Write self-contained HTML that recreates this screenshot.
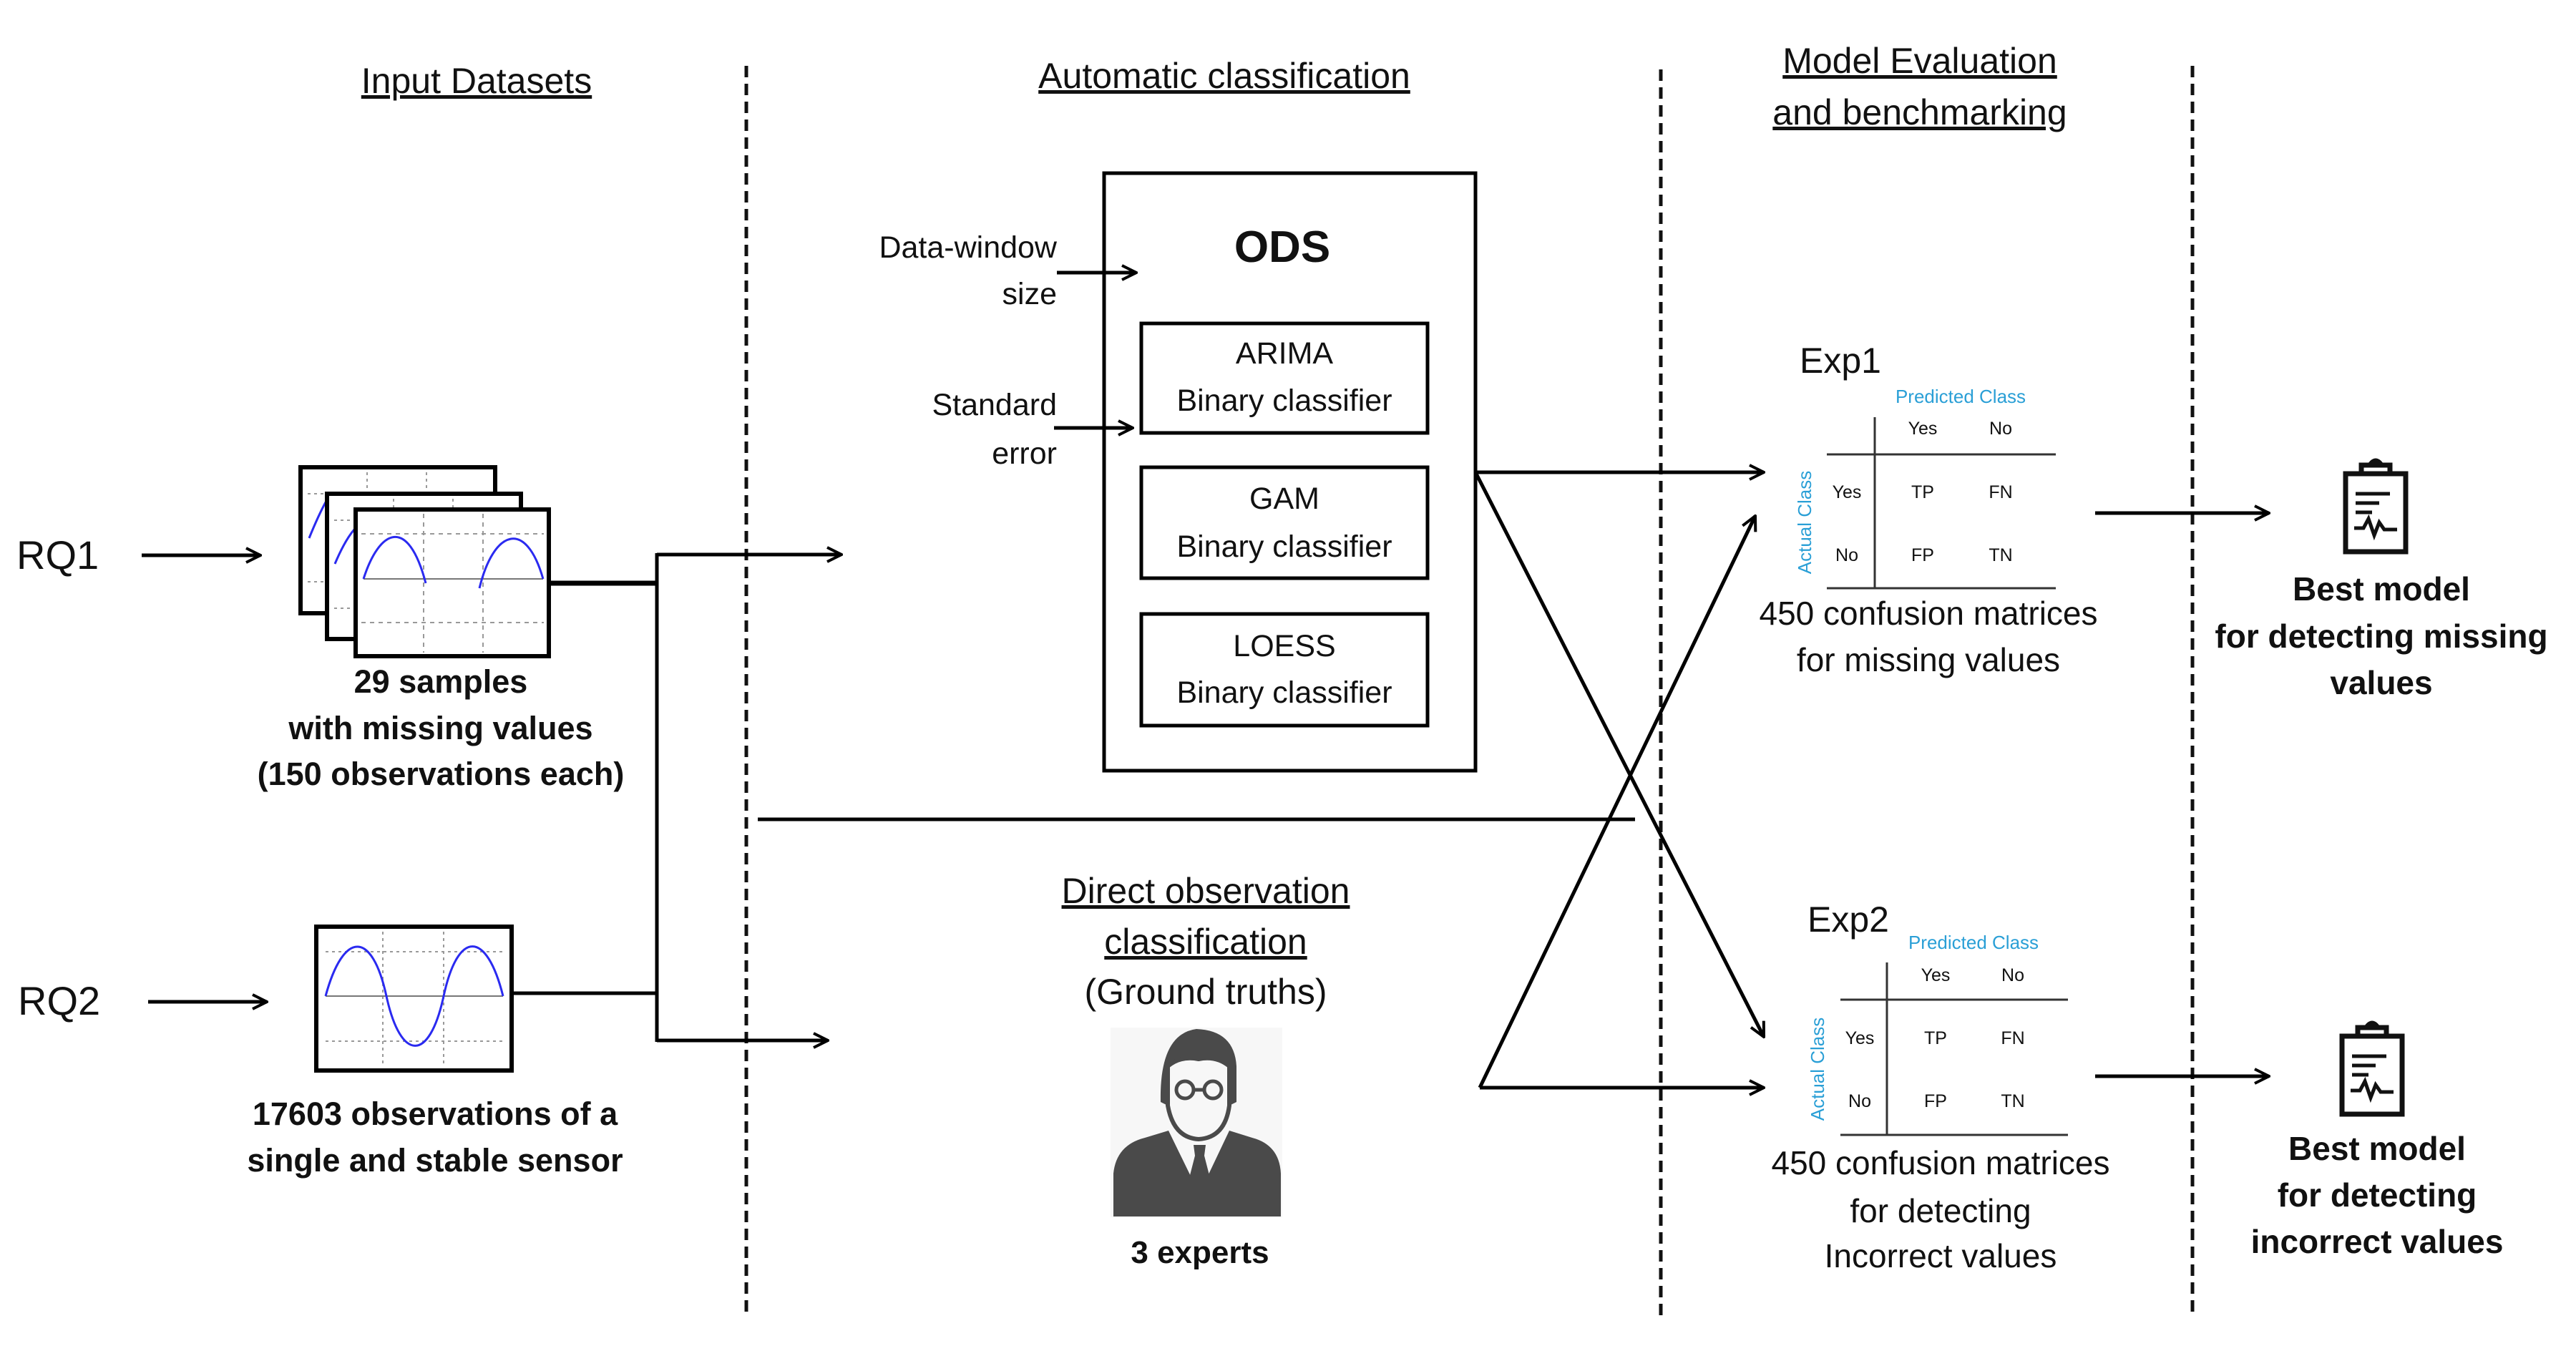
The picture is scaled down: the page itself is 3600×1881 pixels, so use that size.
<!DOCTYPE html>
<html><head><meta charset="utf-8"><style>
html,body{margin:0;padding:0;background:#fff;}
svg{display:block;}
text{font-family:"Liberation Sans",sans-serif;fill:#111;}
.b{font-weight:bold;}
.c{text-anchor:middle;}
.r{text-anchor:end;}
.bl{fill:#2a9fd6;}
.u{text-decoration:underline;}
</style></head><body>
<svg width="3600" height="1881" viewBox="0 0 3600 1881" xmlns="http://www.w3.org/2000/svg">
<defs>
<marker id="a" viewBox="0 0 12 12" refX="11" refY="6" markerWidth="24" markerHeight="24" orient="auto" markerUnits="userSpaceOnUse">
<path d="M1,1 L11,6 L1,11" fill="none" stroke="#000" stroke-width="2"/>
</marker>
</defs>
<g stroke="#111" stroke-width="5" stroke-dasharray="16,9">
<line x1="1043" y1="92" x2="1043" y2="1842"/>
<line x1="2321" y1="97" x2="2321" y2="1842"/>
<line x1="3064" y1="92" x2="3064" y2="1842"/>
</g>
<!-- titles -->
<g font-size="50">
<text x="666" y="130" class="c u">Input Datasets</text>
<text x="1711" y="123" class="c u">Automatic classification</text>
<text x="2683" y="102" class="c u">Model Evaluation</text>
<text x="2683" y="174" class="c u">and benchmarking</text>
</g>
<text x="23" y="795" font-size="56">RQ1</text>
<text x="25" y="1418" font-size="56">RQ2</text>
<g stroke="#000" stroke-width="5" fill="none">
<line x1="198" y1="776" x2="364" y2="776" marker-end="url(#a)"/>
<line x1="207" y1="1400" x2="373" y2="1400" marker-end="url(#a)"/>
<line x1="767" y1="815" x2="918" y2="815" stroke-width="7"/>
<line x1="715" y1="1388" x2="918" y2="1388"/>
<line x1="918" y1="773" x2="918" y2="1456"/>
<line x1="918" y1="775" x2="1176" y2="775" marker-end="url(#a)"/>
<line x1="918" y1="1454" x2="1157" y2="1454" marker-end="url(#a)"/>
<line x1="1059" y1="1145" x2="2285" y2="1145"/>
</g>
<!-- charts -->
<g stroke-width="6">
<rect x="420" y="653" width="272" height="204" fill="#fff" stroke="#000"/>
<g stroke="#999" stroke-width="2" stroke-dasharray="4,5"><line x1="430" y1="690" x2="690" y2="690"/><line x1="430" y1="813" x2="690" y2="813"/><line x1="513" y1="660" x2="513" y2="855"/><line x1="596" y1="660" x2="596" y2="855"/></g>
<path d="M432,752 Q445,720 456,700" stroke="#2a2af0" stroke-width="3" fill="none"/>
<rect x="457" y="690" width="271" height="203" fill="#fff" stroke="#000"/>
<g stroke="#999" stroke-width="2" stroke-dasharray="4,5"><line x1="467" y1="727" x2="725" y2="727"/><line x1="467" y1="850" x2="725" y2="850"/><line x1="550" y1="697" x2="550" y2="890"/><line x1="633" y1="697" x2="633" y2="890"/></g>
<path d="M468,788 Q482,755 495,740" stroke="#2a2af0" stroke-width="3" fill="none"/>
<rect x="497" y="712" width="270" height="205" fill="#fff" stroke="#000"/>
<g stroke="#999" stroke-width="2" stroke-dasharray="6,6"><line x1="505" y1="746" x2="760" y2="746"/><line x1="505" y1="870" x2="760" y2="870"/><line x1="592" y1="718" x2="592" y2="912"/><line x1="675" y1="718" x2="675" y2="912"/></g>
<line x1="508" y1="809" x2="759" y2="809" stroke="#777" stroke-width="2"/>
<path d="M508,809 C530,740 570,720 595,815 M670,822 C690,740 735,725 759,809" stroke="#2a2af0" stroke-width="3" fill="none"/>
<rect x="442" y="1295" width="273" height="201" fill="#fff" stroke="#000"/>
<g stroke="#999" stroke-width="2" stroke-dasharray="4,5"><line x1="455" y1="1330" x2="705" y2="1330"/><line x1="455" y1="1455" x2="705" y2="1455"/><line x1="535" y1="1302" x2="535" y2="1490"/><line x1="620" y1="1302" x2="620" y2="1490"/></g>
<line x1="455" y1="1392" x2="703" y2="1392" stroke="#777" stroke-width="2"/>
<path d="M455,1392 C480,1300 520,1300 540,1392 S600,1485 620,1392 S680,1300 703,1392" stroke="#2a2af0" stroke-width="3" fill="none"/>
</g>
<g font-size="45">
<text x="616" y="968" class="b c">29 samples</text>
<text x="616" y="1033" class="b c">with missing values</text>
<text x="616" y="1097" class="b c">(150 observations each)</text>
<text x="608" y="1572" class="b c">17603 observations of a</text>
<text x="608" y="1637" class="b c">single and stable sensor</text>
</g>
<!-- ODS -->
<rect x="1543" y="242" width="519" height="835" fill="none" stroke="#000" stroke-width="5"/>
<text x="1792" y="366" font-size="62" class="b c">ODS</text>
<g fill="none" stroke="#000" stroke-width="5">
<rect x="1595" y="452" width="400" height="153"/>
<rect x="1595" y="653" width="400" height="155"/>
<rect x="1595" y="858" width="400" height="156"/>
</g>
<g font-size="43">
<text x="1795" y="508" class="c">ARIMA</text><text x="1795" y="574" class="c">Binary classifier</text>
<text x="1795" y="711" class="c">GAM</text><text x="1795" y="778" class="c">Binary classifier</text>
<text x="1795" y="917" class="c">LOESS</text><text x="1795" y="982" class="c">Binary classifier</text>
<text x="1477" y="360" class="r">Data-window</text>
<text x="1477" y="425" class="r">size</text>
<text x="1477" y="580" class="r">Standard</text>
<text x="1477" y="648" class="r">error</text>
</g>
<g stroke="#000" stroke-width="5" fill="none">
<line x1="1477" y1="381" x2="1588" y2="381" marker-end="url(#a)"/>
<line x1="1473" y1="598" x2="1583" y2="598" marker-end="url(#a)"/>
<line x1="2062" y1="660" x2="2465" y2="660" marker-end="url(#a)"/>
<line x1="2062" y1="660" x2="2465" y2="1449" marker-end="url(#a)"/>
<line x1="2068" y1="1520" x2="2465" y2="1520" marker-end="url(#a)"/>
<line x1="2068" y1="1520" x2="2453" y2="721" marker-end="url(#a)"/>
<line x1="2928" y1="717" x2="3171" y2="717" marker-end="url(#a)"/>
<line x1="2928" y1="1504" x2="3171" y2="1504" marker-end="url(#a)"/>
</g>
<g font-size="50">
<text x="1685" y="1262" class="c u">Direct observation</text>
<text x="1685" y="1333" class="c u">classification</text>
<text x="1685" y="1403" class="c">(Ground truths)</text>
</g>
<!-- person -->
<rect x="1552" y="1436" width="240" height="265" fill="#f7f7f7"/>
<g fill="#4a4a4a">
<path d="M1556,1700 L1556,1640 Q1560,1600 1600,1590 L1633,1580 L1672,1660 L1680,1660 L1718,1580 L1750,1590 Q1788,1600 1790,1640 L1790,1700 Z"/>
<path d="M1668,1600 L1685,1600 L1683,1615 L1692,1650 L1676,1665 L1661,1650 L1670,1615 Z"/>
<path d="M1622,1540 Q1620,1445 1672,1438 Q1725,1440 1728,1490 L1728,1540 L1718,1545 L1718,1490 Q1700,1475 1675,1480 Q1650,1475 1632,1490 L1632,1545 Z"/>
<path d="M1632,1490 L1632,1545 Q1640,1590 1675,1592 Q1712,1590 1718,1545 L1718,1490 Q1700,1475 1675,1480 Q1650,1475 1632,1490 Z" fill="none" stroke="#4a4a4a" stroke-width="6"/>
</g>
<g fill="none" stroke="#4a4a4a" stroke-width="5"><circle cx="1656" cy="1523" r="12"/><circle cx="1695" cy="1523" r="12"/><line x1="1668" y1="1523" x2="1683" y2="1523"/></g>
<text x="1677" y="1765" font-size="44" class="b c">3 experts</text>
<!-- Exp1 -->
<text x="2515" y="521" font-size="50">Exp1</text>
<text x="2740" y="563" font-size="26" class="c bl">Predicted Class</text>
<g stroke="#333" stroke-width="3"><line x1="2620" y1="583" x2="2620" y2="822"/><line x1="2553" y1="635" x2="2873" y2="635"/><line x1="2553" y1="822" x2="2873" y2="822"/></g>
<g font-size="25"><text x="2687" y="607" class="c">Yes</text><text x="2796" y="607" class="c">No</text>
<text x="2581" y="696" class="c">Yes</text><text x="2687" y="696" class="c">TP</text><text x="2796" y="696" class="c">FN</text>
<text x="2581" y="784" class="c">No</text><text x="2687" y="784" class="c">FP</text><text x="2796" y="784" class="c">TN</text></g>
<text transform="translate(2531,730) rotate(-90)" font-size="26" class="c bl">Actual Class</text>
<text x="2695" y="873" font-size="46" class="c">450 confusion matrices</text>
<text x="2695" y="938" font-size="46" class="c">for missing values</text>
<!-- Exp2 -->
<text x="2526" y="1302" font-size="50">Exp2</text>
<text x="2758" y="1326" font-size="26" class="c bl">Predicted Class</text>
<g stroke="#333" stroke-width="3"><line x1="2637" y1="1345" x2="2637" y2="1586"/><line x1="2572" y1="1397" x2="2890" y2="1397"/><line x1="2572" y1="1586" x2="2890" y2="1586"/></g>
<g font-size="25"><text x="2705" y="1371" class="c">Yes</text><text x="2813" y="1371" class="c">No</text>
<text x="2599" y="1459" class="c">Yes</text><text x="2705" y="1459" class="c">TP</text><text x="2813" y="1459" class="c">FN</text>
<text x="2599" y="1547" class="c">No</text><text x="2705" y="1547" class="c">FP</text><text x="2813" y="1547" class="c">TN</text></g>
<text transform="translate(2549,1494) rotate(-90)" font-size="26" class="c bl">Actual Class</text>
<text x="2712" y="1641" font-size="46" class="c">450 confusion matrices</text>
<text x="2712" y="1708" font-size="46" class="c">for detecting</text>
<text x="2712" y="1771" font-size="46" class="c">Incorrect values</text>
<!-- clipboards -->
<g fill="none" stroke="#111" stroke-width="7">
<rect x="3278" y="662" width="84" height="109"/>
<path d="M3300,662 L3300,650 L3340,650 L3340,662 M3312,650 Q3320,638 3328,650" />
<g stroke-width="5"><line x1="3292" y1="690" x2="3340" y2="690"/><line x1="3292" y1="703" x2="3325" y2="703"/><line x1="3292" y1="716" x2="3315" y2="716"/>
<path d="M3290,738 L3303,738 L3310,725 L3318,748 L3325,730 L3332,740 L3350,740"/></g>
<rect x="3273" y="1448" width="84" height="109"/>
<path d="M3295,1448 L3295,1436 L3335,1436 L3335,1448 M3307,1436 Q3315,1424 3323,1436"/>
<g stroke-width="5"><line x1="3287" y1="1476" x2="3335" y2="1476"/><line x1="3287" y1="1489" x2="3320" y2="1489"/><line x1="3287" y1="1502" x2="3310" y2="1502"/>
<path d="M3285,1524 L3298,1524 L3305,1511 L3313,1534 L3320,1516 L3327,1526 L3345,1526"/></g>
</g>
<g font-size="46">
<text x="3328" y="839" class="b c">Best model</text>
<text x="3328" y="905" class="b c">for detecting missing</text>
<text x="3328" y="970" class="b c">values</text>
<text x="3322" y="1621" class="b c">Best model</text>
<text x="3322" y="1686" class="b c">for detecting</text>
<text x="3322" y="1751" class="b c">incorrect values</text>
</g>
</svg>
</body></html>
